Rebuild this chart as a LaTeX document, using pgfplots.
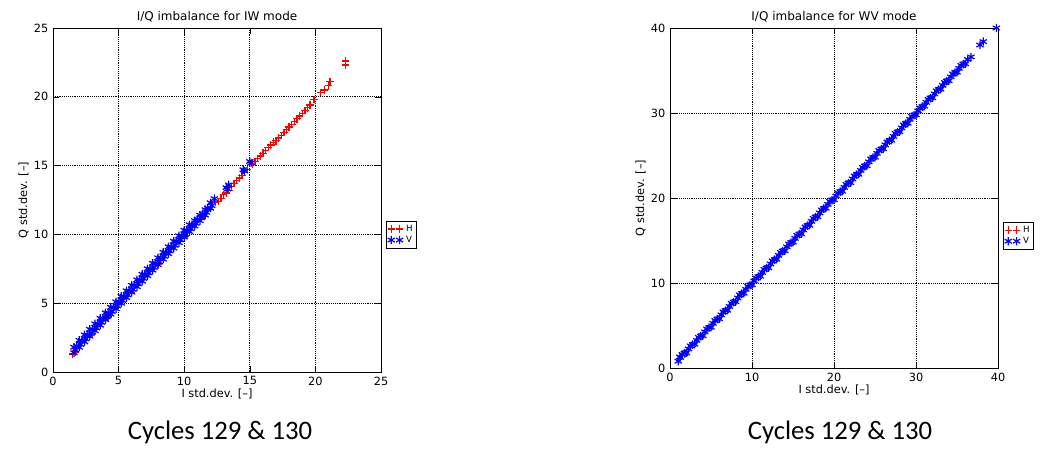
\documentclass[border=0pt]{standalone}
\usepackage{pgfplots}
\pgfplotsset{compat=1.18}
\usepackage{fontspec}
\setmainfont{DejaVu Sans}
\newfontfamily\capfont{Carlito}
\definecolor{myred}{RGB}{255,0,0}
\definecolor{myblue}{RGB}{0,0,255}
\pgfplotsset{
  iq/.style={scale only axis, width=246pt, xmin=0, xmax=#1, ymin=0, ymax=#1,
    grid=major, major grid style={black, densely dotted, line width=0.5pt},
    tick style={black}, tick align=inside,
    font=\fontsize{8.5}{10}\selectfont,
    /pgf/number format/assume math mode=true,
    title style={yshift=-5pt, font=\fontsize{9}{10}\selectfont},
    xlabel style={yshift=4pt}, ylabel style={yshift=-3pt},
    title={I/Q imbalance for IW mode},
    xlabel={I std.dev. [--]}, ylabel={Q std.dev. [--]},
    legend style={font=\fontsize{6.5}{7}\selectfont, inner sep=1pt, row sep=-2pt, legend cell align=left},
    legend image code/.code={\draw plot[only marks] coordinates {(0cm,0cm) (0.22cm,0cm)};},
  },
  redp/.style={only marks, mark=+, color=myred, mark options={draw=myred}, mark size=2.8pt, line width=1pt},
  bluep/.style={only marks, mark=asterisk, color=myblue, mark options={draw=myblue}, mark size=3.1pt, line width=0.9pt},
}
\begin{document}
\begin{tikzpicture}
\path (0,0) rectangle (780.75pt,339pt);
\begin{axis}[iq=25, at={(39.75pt,60pt)}, anchor=south west, height=258pt,
  xtick={0,5,...,25}, ytick={0,5,...,25},
  legend style={at={(1.015,0.44)}, anchor=north west}]
\addlegendimage{redp}
\addlegendentry{H}
\addlegendimage{bluep}
\addlegendentry{V}
\addplot[redp, forget plot] coordinates {(22.3,22.3)(22.3,22.6)(21.0,20.8)(21.1,21.1)(20.4,20.3)(20.7,20.5)(19.9,19.8)
(1.5,1.3)(1.7,1.4)(3,2.8)(4.2,4.0)(6,5.8)(8,7.8)(10,9.8)(11.5,11.3)
(12.4,12.3)(12.8,12.6)(13.2,13.0)(13.6,13.5)(14.0,13.9)(14.4,14.3)(14.8,14.7)(15.2,15.1)(15.6,15.5)(16.0,15.9)(16.4,16.3)(16.8,16.7)(17.2,17.0)(17.6,17.4)(18.0,17.8)(18.4,18.2)(18.8,18.6)(19.2,19.0)(19.6,19.4)
(12.6,12.4)(13.0,12.9)(13.4,13.2)(13.8,13.7)(14.2,14.1)(15.4,15.3)(15.8,15.7)(16.2,16.1)(16.6,16.5)(17.0,16.8)(17.4,17.2)(17.8,17.6)(18.2,18.0)(18.6,18.4)(19.0,18.8)(19.4,19.2)};
\addplot[bluep, forget plot] coordinates {(1.6,1.4)(2.0,1.8)(2.4,2.2)(2.8,2.6)(3.2,3.0)(3.6,3.4)(4.0,3.8)(4.4,4.2)(4.8,4.6)(5.2,5.0)(5.6,5.4)(6.0,5.8)(6.4,6.2)(6.8,6.6)(7.2,7.0)(7.6,7.4)(8.0,7.8)(8.4,8.2)(8.8,8.6)(9.2,9.0)(9.6,9.4)(10.0,9.8)(10.4,10.2)(10.8,10.6)(11.2,11.0)(11.6,11.4)(12.0,11.9)
(1.6,1.8)(2.0,2.3)(2.4,2.7)(2.8,3.1)(3.2,3.5)(3.6,3.9)(4.0,4.3)(4.4,4.7)(4.8,5.1)(5.2,5.5)(5.6,5.9)(6.0,6.3)(6.4,6.7)(6.8,7.1)(7.2,7.5)(7.6,7.9)(8.0,8.3)(8.4,8.7)(8.8,9.1)(9.2,9.5)(9.6,9.9)(10.0,10.3)(10.4,10.7)(10.8,11.0)(11.2,11.4)(11.6,11.8)(12.0,12.3)(12.3,12.6)
(1.8,1.9)(2.2,2.3)(2.6,2.7)(3.0,3.1)(3.4,3.5)(3.8,3.9)(4.2,4.3)(4.6,4.7)(5.0,5.1)(5.4,5.5)(5.8,5.9)(6.2,6.3)(6.6,6.7)(7.0,7.1)(7.4,7.5)(7.8,7.9)(8.2,8.3)(8.6,8.7)(9.0,9.1)(9.4,9.5)(9.8,9.9)(10.2,10.3)(10.6,10.7)(11.0,11.1)(11.4,11.5)(11.8,11.9)
(1.7,1.6)(2.1,2.0)(2.5,2.4)(2.9,2.8)(3.3,3.2)(3.7,3.6)(4.1,4.0)(4.5,4.4)(4.9,4.8)(5.3,5.2)(5.7,5.6)(6.1,6.0)(6.5,6.4)(6.9,6.8)(7.3,7.2)(7.7,7.6)(8.1,8.0)(8.5,8.4)(8.9,8.8)(9.3,9.2)(9.7,9.6)(10.1,10.0)(10.5,10.4)(10.9,10.8)(11.3,11.2)(11.7,11.6)(12.1,12.1)
(13.2,13.4)(13.4,13.6)(13.3,13.3)(14.5,14.7)(14.6,14.6)(15.0,15.3)(15.1,15.2)};
\end{axis}
\node[font=\capfont\fontsize{20}{22}\selectfont] at (165pt,15pt) {Cycles 129 \& 130};
\begin{axis}[iq=40, at={(502.5pt,63pt)}, anchor=south west, height=255pt,
  title={I/Q imbalance for WV mode},
  xtick={0,10,...,40}, ytick={0,10,...,40},
  legend style={at={(1.015,0.43)}, anchor=north west}]
\addlegendimage{redp}
\addlegendentry{H}
\addplot[bluep] coordinates {(1.0,0.8)(1.5,1.6)(2.0,1.8)(2.5,2.6)(3.0,2.8)(3.5,3.6)(4.0,3.8)(4.5,4.6)(5.0,4.8)(5.5,5.6)(6.0,5.8)(6.5,6.6)(7.0,6.8)(7.5,7.6)(8.0,7.8)(8.5,8.6)(9.0,8.8)(9.5,9.6)(10.0,9.8)(10.5,10.6)(11.0,10.8)(11.5,11.6)(12.0,11.8)(12.5,12.6)(13.0,12.8)(13.5,13.6)(14.0,13.8)(14.5,14.6)(15.0,14.8)(15.5,15.6)(16.0,15.8)(16.5,16.6)(17.0,16.8)(17.5,17.6)(18.0,17.8)(18.5,18.6)(19.0,18.8)(19.5,19.6)(20.0,19.8)(20.5,20.6)(21.0,20.8)(21.5,21.6)(22.0,21.8)(22.5,22.6)(23.0,22.8)(23.5,23.6)(24.0,23.8)(24.5,24.6)(25.0,24.8)(25.5,25.6)(26.0,25.8)(26.5,26.6)(27.0,26.8)(27.5,27.6)(28.0,27.8)(28.5,28.6)(29.0,28.8)(29.5,29.6)(30.0,29.8)(30.5,30.6)(31.0,30.8)(31.5,31.6)(32.0,31.8)(32.5,32.6)(33.0,32.8)(33.5,33.6)(34.0,33.8)(34.5,34.6)(35.0,34.8)(35.5,35.6)(36.0,35.8)(36.7,36.6)(37.8,38.0)(38.2,38.4)(39.8,40.0)(1.2,1.3)(1.8,1.7)
(1.25,1.25)(1.75,1.75)(2.25,2.25)(2.75,2.75)(3.25,3.25)(3.75,3.75)(4.25,4.25)(4.75,4.75)(5.25,5.25)(5.75,5.75)(6.25,6.25)(6.75,6.75)(7.25,7.25)(7.75,7.75)(8.25,8.25)(8.75,8.75)(9.25,9.25)(9.75,9.75)(10.25,10.25)(10.75,10.75)(11.25,11.25)(11.75,11.75)(12.25,12.25)(12.75,12.75)(13.25,13.25)(13.75,13.75)(14.25,14.25)(14.75,14.75)(15.25,15.25)(15.75,15.75)(16.25,16.25)(16.75,16.75)(17.25,17.25)(17.75,17.75)(18.25,18.25)(18.75,18.75)(19.25,19.25)(19.75,19.75)(20.25,20.25)(20.75,20.75)(21.25,21.25)(21.75,21.75)(22.25,22.25)(22.75,22.75)(23.25,23.25)(23.75,23.75)(24.25,24.25)(24.75,24.75)(25.25,25.25)(25.75,25.75)(26.25,26.25)(26.75,26.75)(27.25,27.25)(27.75,27.75)(28.25,28.25)(28.75,28.75)(29.25,29.25)(29.75,29.75)(30.25,30.25)(30.75,30.75)(31.25,31.25)(31.75,31.75)(32.25,32.25)(32.75,32.75)(33.25,33.25)(33.75,33.75)(34.25,34.25)(34.75,34.75)(35.25,35.25)(35.75,35.75)(36.3,36.3)};
\addlegendentry{V}
\end{axis}
\node[font=\capfont\fontsize{20}{22}\selectfont] at (630pt,15pt) {Cycles 129 \& 130};
\end{tikzpicture}
\end{document}
